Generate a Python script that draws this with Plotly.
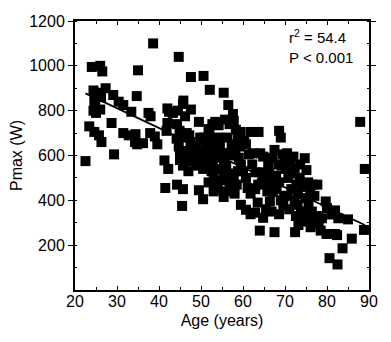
import plotly.graph_objects as go

age_young = [23.4, 24.0, 24.4, 24.6, 24.6, 25.0, 25.7, 26.0, 26.2, 26.3, 24.4, 26.0, 26.5, 27.3, 28.7,
             29.1, 29.3, 30.4, 31.5, 31.5, 32.8, 33.4, 34.3, 34.4, 34.7, 34.8, 35.0, 36.2, 37.5, 37.9,
             38.0, 38.6, 39.0, 39.6, 22.5, 25.2, 24.8]
pmax_young = [730, 995, 800, 705, 845, 790, 690, 805, 860, 660, 890, 1000, 975, 900, 745,
              870, 605, 840, 825, 700, 690, 795, 660, 695, 865, 650, 980, 655, 790, 700,
              775, 1100, 685, 650, 575, 880, 820]

age_40s = [41.3, 41.5, 42.2, 42.0, 42.4, 42.0, 41.8, 43.3, 44.3, 44.9, 44.2, 44.7, 45.5, 46.6, 45.7,
           45.8, 44.7, 45.0, 45.5, 46.6, 45.0, 45.7, 47.0, 44.3, 45.7, 45.5, 47.6, 47.6, 49.5, 48.9,
           48.5, 49.0, 49.5, 47.5, 48.0, 46.5, 47.2, 49.8, 48.3, 49.7, 46.2, 44.5]
pmax_40s = [578, 455, 540, 810, 795, 745, 710, 790, 740, 710, 675, 640, 680, 700, 830,
            845, 1040, 610, 595, 595, 580, 555, 530, 470, 450, 375, 950, 805, 750, 555,
            600, 640, 445, 660, 575, 620, 690, 680, 630, 560, 775, 800]

age_50s = [50.6, 52.1, 55.4, 56.5, 57.6, 57.8, 50.8, 51.8, 52.7, 53.4, 54.2, 55.7, 56.8, 58.3, 59.4,
           50.5, 51.0, 51.5, 52.0, 52.5, 53.0, 53.5, 54.0, 54.5, 55.0, 55.5, 56.0, 56.5, 57.0, 57.5,
           58.0, 55.4, 52.3, 53.3, 54.3, 56.2, 57.3, 58.2, 59.0, 59.5, 58.8, 57.8, 56.8, 55.8, 54.8,
           53.8, 52.8, 51.3, 50.2, 50.5, 51.8, 53.0, 58.5, 59.3, 58.7, 57.0, 55.5, 54.0, 52.0, 56.0]
pmax_50s = [955, 893, 880, 825, 785, 755, 680, 718, 740, 750, 735, 760, 740, 715, 705,
            405, 620, 590, 560, 530, 500, 470, 450, 640, 610, 580, 550, 520, 490, 460,
            430, 415, 660, 620, 590, 680, 650, 620, 590, 560, 530, 500, 470, 440, 490,
            540, 580, 650, 600, 540, 480, 440, 470, 640, 680, 600, 520, 680, 700, 610]

age_60s = [60.3, 61.8, 63.7, 60.7, 61.4, 62.4, 64.1, 64.8, 60.0, 60.7, 61.1, 61.8, 62.9, 63.6, 64.5,
           64.8, 63.0, 62.2, 59.5, 60.7, 61.8, 62.9, 63.5, 64.8, 64.0, 67.5, 66.4, 67.1, 66.4, 67.9,
           68.6, 69.2, 67.5, 68.6, 69.0, 69.4, 70.0, 68.4, 68.6, 69.6, 69.8, 66.0, 65.8, 65.5, 66.8,
           67.0, 68.0, 69.0, 65.0, 66.2]
pmax_60s = [665, 705, 705, 650, 605, 610, 610, 595, 530, 500, 455, 430, 450, 470, 480,
            525, 525, 560, 380, 358, 338, 345, 390, 322, 265, 258, 395, 437, 480, 510,
            480, 555, 625, 710, 680, 605, 580, 560, 338, 380, 420, 560, 440, 360, 350,
            590, 450, 400, 500, 520]

age_70s = [70.5, 71.2, 72.0, 72.3, 72.7, 73.1, 70.8, 71.5, 72.3, 73.0, 73.8, 72.6, 72.4, 74.7, 75.1,
           75.5, 76.6, 77.7, 74.8, 75.6, 76.4, 76.8, 75.3, 74.5, 76.1, 74.2, 77.6, 78.0, 78.5, 79.7,
           80.0, 79.9, 71.0, 70.6, 71.7, 73.5, 74.0, 73.6, 70.2, 77.0, 76.0, 73.2, 78.8]
pmax_70s = [610, 580, 595, 540, 470, 430, 500, 450, 400, 380, 350, 330, 258, 588, 535,
            480, 470, 470, 410, 380, 350, 320, 305, 340, 280, 320, 330, 295, 265, 395,
            365, 250, 360, 420, 520, 500, 460, 560, 540, 420, 440, 290, 320]

age_80s = [81.2, 81.9, 82.7, 81.9, 82.4, 80.6, 82.5, 83.7, 85.0, 85.9, 87.9, 89.0, 88.8]
pmax_80s = [337, 355, 320, 250, 245, 142, 114, 186, 315, 229, 750, 540, 268]

fit_age = [22.5, 89.0]
fit_pmax = [877, 290]

x_ticks = [20, 30, 40, 50, 60, 70, 80, 90]
y_ticks = [200, 400, 600, 800, 1000, 1200]

ages = age_young + age_40s + age_50s + age_60s + age_70s + age_80s
pmax = pmax_young + pmax_40s + pmax_50s + pmax_60s + pmax_70s + pmax_80s

FONT = "Arial, Liberation Sans, sans-serif"

fig = go.Figure()
fig.add_trace(go.Scatter(
    x=ages, y=pmax, mode="markers",
    marker=dict(symbol="square", size=10, color="black", line=dict(width=0)),
    showlegend=False,
))
fig.add_trace(go.Scatter(
    x=fit_age, y=fit_pmax, mode="lines",
    line=dict(color="black", width=1.8), showlegend=False,
))

fig.add_annotation(
    x=0.72, y=0.985, xref="paper", yref="paper", xanchor="left", yanchor="top",
    text="r<sup>2</sup> = 54.4<br>P < 0.001", showarrow=False, align="left",
    font=dict(family=FONT, size=15, color="black"),
)

# page body has an 8px default margin, so the figure is sized to fit inside the window
fig.update_layout(
    width=375, height=326,
    margin=dict(l=62, r=6, t=5, b=44),
    paper_bgcolor="white", plot_bgcolor="white",
    font=dict(family=FONT, size=16, color="black"),
)
fig.update_xaxes(
    range=[20, 90], tickvals=x_ticks, ticktext=[str(v) for v in x_ticks],
    showgrid=False, zeroline=False,
    showline=True, linecolor="black", linewidth=2, mirror="ticks",
    ticks="inside", ticklen=4, tickcolor="black", tickwidth=1,
    ticklabelstandoff=-4, ticklabeloverflow="allow",
    minor=dict(dtick=5, ticks="inside", ticklen=3, tickcolor="black", showgrid=False),
    title=dict(text="Age (years)", font=dict(family=FONT, size=16), standoff=6),
    tickfont=dict(family=FONT, size=16),
)
fig.update_yaxes(
    range=[0, 1200], tickvals=y_ticks, ticktext=[str(v) for v in y_ticks],
    showgrid=False, zeroline=False,
    showline=True, linecolor="black", linewidth=2, mirror="ticks",
    ticks="outside", ticklen=5, tickcolor="black", tickwidth=1,
    ticklabeloverflow="allow",
    minor=dict(dtick=100, ticks="inside", ticklen=2, tickcolor="black", showgrid=False),
    title=dict(text="Pmax (W)", font=dict(family=FONT, size=16), standoff=5),
    tickfont=dict(family=FONT, size=16),
)

fig.write_html("out.html")
